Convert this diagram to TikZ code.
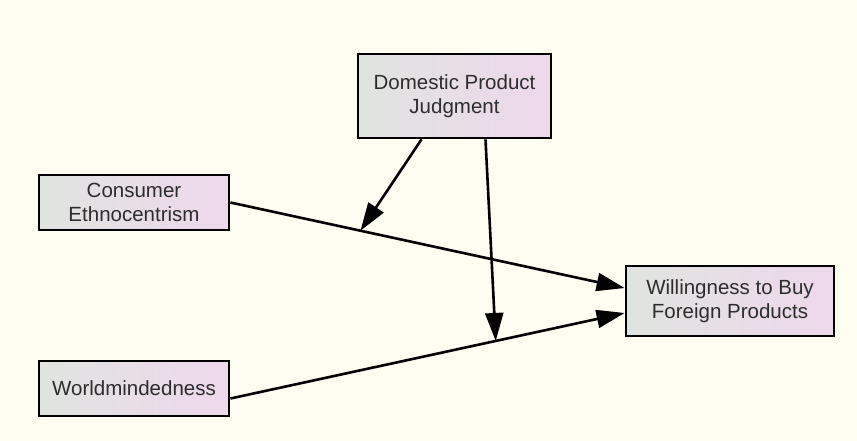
\documentclass[tikz,border=0pt]{standalone}
\usepackage{fontspec}
\setmainfont{Liberation Sans}
\usetikzlibrary{arrows.meta,calc}
\definecolor{BackClr}{RGB}{253,253,241}
\definecolor{BoxLeftClr}{RGB}{224,228,224}
\definecolor{BoxRightClr}{RGB}{238,216,236}
\definecolor{TextClr}{RGB}{45,45,45}

\begin{document}
\begin{tikzpicture}[x=1pt,y=-1pt,
  var/.style={draw=black,line width=2.8pt,left color=BoxLeftClr,right color=BoxRightClr,
    text=TextClr,align=center,inner sep=0pt,font=\fontsize{20.5}{23.5}\selectfont},
  path/.style={line width=2.6pt,-{Triangle[length=28pt,width=18pt]}}]
\fill[BackClr] (0,0) rectangle (857,441);
\useasboundingbox (0,0) rectangle (857,441);

% variables
\node[var,minimum width=193pt,minimum height=84pt] (dp) at (454.5,96) {Domestic Product\\Judgment};
\node[var,minimum width=190pt,minimum height=55pt] (ce) at (134,202.5) {Consumer\\Ethnocentrism};
\node[var,minimum width=190pt,minimum height=55pt] (wm) at (134,388.5) {Worldmindedness};
\node[var,minimum width=208pt,minimum height=70pt] (wb) at (730,301) {Willingness to Buy\\Foreign Products};

% end points on the outcome box
\coordinate (wbA) at ([yshift=13pt]wb.west);
\coordinate (wbB) at ([yshift=-12pt]wb.west);
\coordinate (wmA) at ([yshift=-10pt]wm.east);
\coordinate (dpA) at ([xshift=-33pt]dp.south);
\coordinate (dpB) at ([xshift=31pt]dp.south);

% main effects
\draw[path] (ce.east) -- coordinate[pos=0.33] (mCE) (wbA);
\draw[path] (wmA) -- coordinate[pos=0.673] (mWM) (wbB);

% moderation
\draw[path] (dpA) -- (mCE);
\draw[path] (dpB) -- (mWM);

\end{tikzpicture}
\end{document}
